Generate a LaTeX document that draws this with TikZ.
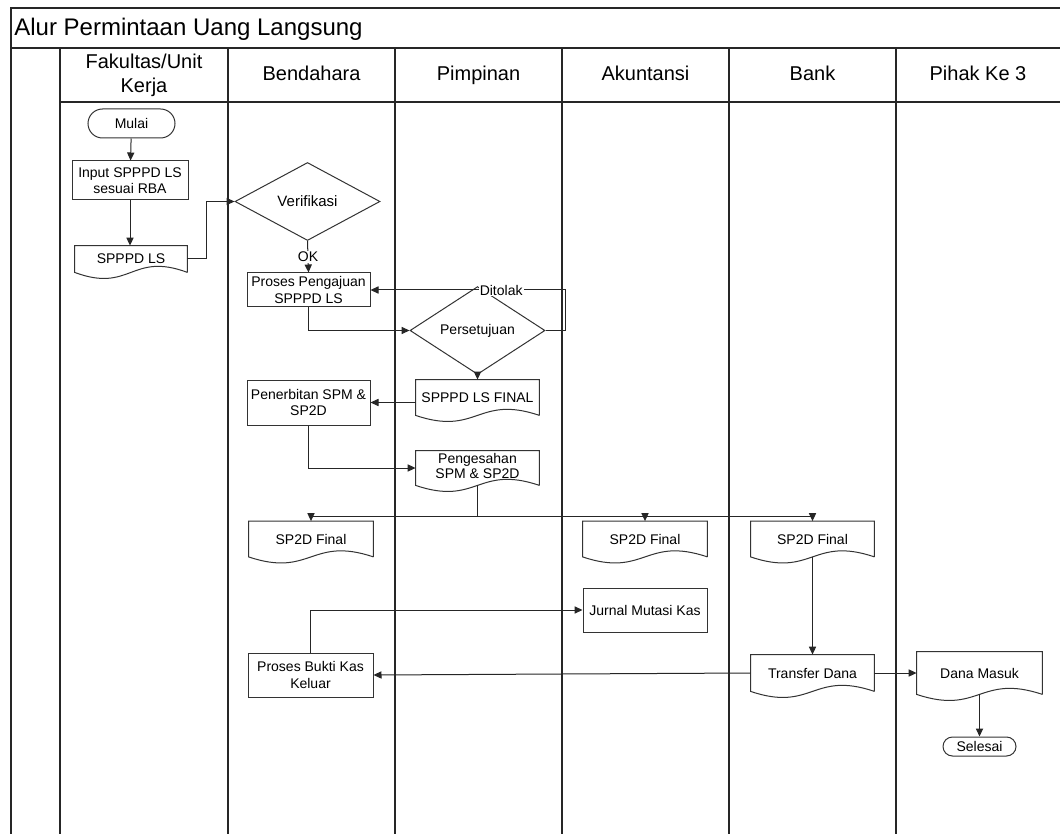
\documentclass[tikz,border=0pt]{standalone}
\usepackage{fontspec}
\setmainfont{Liberation Sans}
\usetikzlibrary{arrows.meta,shapes.geometric,shapes.misc,calc}
\begin{document}
\begin{tikzpicture}[x=0.5pt,y=-0.5pt,
  every node/.style={font=\fontsize{7}{8.3}\selectfont, align=center, inner sep=1pt},
  lane/.style={line width=0.6pt, draw=black!85},
  shapeline/.style={draw=black!80, line width=0.5pt},
  proc/.style={rectangle, shapeline, fill=white},
  term/.style={rounded rectangle, shapeline, fill=white},
  decide/.style={diamond, shapeline, fill=white, inner sep=0pt},
  docbox/.style={rectangle, draw=none},
  arr/.style={draw=black!85, line width=0.5pt, -{Triangle[length=4pt,width=3.6pt]}},
  link/.style={draw=black!85, line width=0.5pt},
  head/.style={font=\fontsize{10}{12}\selectfont},
  headone/.style={head, text height=7.5pt, text depth=2pt},
]
\useasboundingbox (0,0) rectangle (1060,834);
\fill[white] (0,0) rectangle (1060,834);

% swimlane frame
\draw[lane] (11,836) -- (11,8) -- (1064,8);
\draw[lane] (11,48) -- (1064,48);
\draw[lane] (60,102) -- (1064,102);
\foreach \x in {60,228,395,562,729,896} \draw[lane] (\x,48) -- (\x,836);

\node[anchor=west, font=\fontsize{12}{14}\selectfont, inner sep=0pt] (title) at (14,29) {Alur Permintaan Uang Langsung};

% lane headers
\node[head]    (hfak)  at (144,75)   {Fakultas/Unit\\Kerja};
\node[headone] (hbend) at (311.5,75) {Bendahara};
\node[headone] (hpim)  at (478.5,75) {Pimpinan};
\node[headone] (hak)   at (645.5,75) {Akuntansi};
\node[headone] (hbank) at (812.5,75) {Bank};
\node[headone] (hpk)   at (978,75)   {Pihak Ke 3};

% terminators
\node[term, minimum width=45.5pt, minimum height=14.5pt] (mulai) at (131.5,123.5) {Mulai};
\node[term, minimum width=38.5pt, minimum height=9.5pt] (selesai) at (979.5,746.5) {Selesai};

% processes
\node[proc, minimum width=58pt, minimum height=19.5pt] (input) at (130,180.5) {Input SPPPD LS\\sesuai RBA};
\node[proc, minimum width=61.5pt, minimum height=17pt] (proses) at (308.5,290) {Proses Pengajuan\\SPPPD LS};
\node[proc, minimum width=61.5pt, minimum height=22.5pt] (terbit) at (308.5,402.5) {Penerbitan SPM \&\\SP2D};
\node[proc, minimum width=62pt, minimum height=22pt] (jurnal) at (645,610) {Jurnal Mutasi Kas};
\node[proc, minimum width=62.5pt, minimum height=22pt] (bukti) at (310.5,675) {Proses Bukti Kas\\Keluar};

% decisions
\node[decide, minimum width=72.5pt, minimum height=39pt] (verif) at (307.5,201.5) {\fontsize{7.5}{9}\selectfont Verifikasi};
\node[decide, minimum width=67.5pt, minimum height=30.5pt] (setuju) at (477.5,330.5) {Persetujuan};

% documents (outline drawn below)
\node[docbox, minimum width=56pt, minimum height=13pt] (spd) at (131,259) {SPPPD LS};
\node[docbox, minimum width=61.5pt, minimum height=17.5pt] (spfinal) at (477.5,397.5) {SPPPD LS FINAL};
\node[docbox, minimum width=61.5pt, minimum height=17pt] (peng) at (477.5,468) {};
\node[font=\fontsize{7}{7.8}\selectfont] (pengtext) at ($(peng)+(0,-2)$) {Pengesahan\\SPM \& SP2D};
\node[docbox, minimum width=62pt, minimum height=17.5pt] (spa) at (311,539) {SP2D Final};
\node[docbox, minimum width=62pt, minimum height=17.5pt] (spb) at (645,539) {SP2D Final};
\node[docbox, minimum width=61.5pt, minimum height=17.5pt] (spc) at (812.5,539) {SP2D Final};
\node[docbox, minimum width=61.5pt, minimum height=18pt] (transfer) at (812.5,673) {Transfer Dana};
\node[docbox, minimum width=62.5pt, minimum height=21pt] (masuk) at (979.5,673) {Dana Masuk};

\foreach \d in {spd,spfinal,peng,spa,spb,spc,transfer,masuk}{
  \draw[shapeline] (\d.south east) -- (\d.north east) -- (\d.north west) -- (\d.south west)
    .. controls ($(\d.south)+(0,21)$) and ($(\d.south)+(0,-21)$) .. (\d.south east);
}

% connectors
\draw[arr] (mulai) -- (input);
\draw[arr] (input.south) -- (input.south |- spd.north);
\draw[arr] (spd.east) -- ++(19,0) |- (verif.west);
\draw[arr] (verif.south) -- node[fill=white, inner sep=0.5pt] {OK} (proses.north);
\draw[arr] (proses.south) |- (setuju.west);
\draw[arr] (setuju.east) -- ++(20,0) |- node[pos=0.665, fill=white, inner sep=0.5pt] {Ditolak} (proses.east);
\draw[arr] (setuju.south) -- (spfinal.north);
\draw[arr] (spfinal.west |- terbit.east) -- (terbit.east);
\draw[arr] (terbit.south) |- (peng.west);
\coordinate (fork) at ($(peng.south)+(0,31)$);
\draw[link] (peng.south) -- (fork);
\draw[arr] (fork) -| (spa.north);
\draw[arr] (fork) -| (spb.north);
\draw[arr] (fork) -| (spc.north);
\draw[arr] (spc.south) -- (transfer.north);
\draw[arr] (transfer.west) -- (bukti.east);
\draw[arr] (bukti.north) |- (jurnal.west);
\draw[arr] (transfer.east) -- (transfer.east -| masuk.west);
\draw[arr] (masuk.south) -- (selesai.north);
\end{tikzpicture}
\end{document}
